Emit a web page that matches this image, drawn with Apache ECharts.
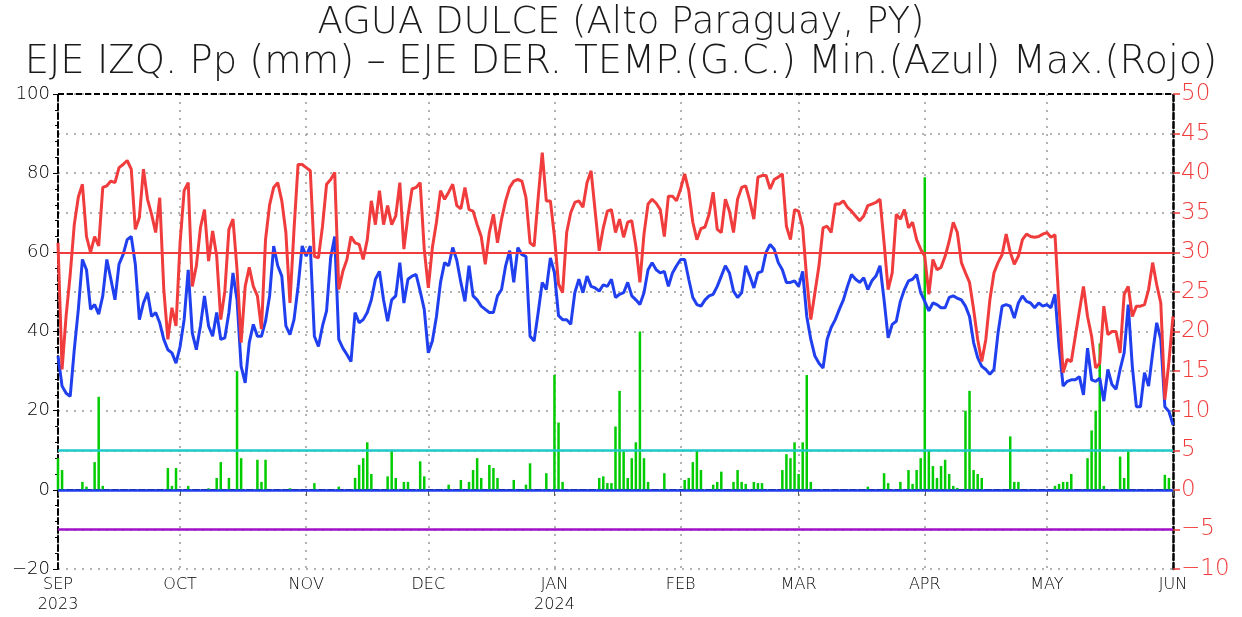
<!DOCTYPE html>
<html>
<head>
<meta charset="utf-8">
<title>AGUA DULCE (Alto Paraguay, PY)</title>
<script src="https://cdn.jsdelivr.net/npm/echarts@6/dist/echarts.min.js"></script>
<style>
  html, body { margin: 0; padding: 0; background: #fff; }
  #chart { width: 1242px; height: 617px; }
</style>
</head>
<body>
<div id="chart"></div>
<script>
// Daily series, 1 Sep 2023 .. 1 Jun 2024 (275 days)
const startDate = [2023, 8, 1];
const dayCount = 275;

const monthNames = ['JAN', 'FEB', 'MAR', 'APR', 'MAY', 'JUN', 'JUL', 'AUG', 'SEP', 'OCT', 'NOV', 'DEC'];

// Daily maximum temperature (°C)
const tempMax = [
  31.2, 15.2, 22, 27.2, 33.5, 37, 38.6, 32, 30, 32,
  30.8, 38.2, 38.4, 39, 38.8, 40.7, 41.1, 41.6, 40.5, 32.9,
  34.4, 40.5, 36.7, 34.8, 32.5, 36.9, 25.3, 19, 23, 20.7,
  31.2, 37.8, 38.8, 25.7, 28.3, 33.1, 35.4, 28.9, 32.7, 29.5,
  21.5, 25.1, 32.9, 34.2, 27.8, 18.6, 25.7, 28.1, 25.7, 24.5,
  20.3, 31.6, 36, 38.2, 38.8, 36.5, 32.5, 23.6, 32.9, 41.1,
  41.1, 40.7, 40.3, 29.5, 29.3, 33.3, 38.6, 39.2, 40.1, 25.3,
  27.6, 29.1, 32, 31.2, 31, 29.1, 31.6, 36.5, 33.5, 37.8,
  33.5, 35.9, 33.5, 34.6, 38.8, 30.4, 34.6, 38, 38.2, 38.8,
  30.4, 25.5, 30.6, 33.8, 37.8, 36.7, 37.6, 38.6, 35.9, 35.5,
  38.2, 35.4, 35.2, 33.5, 32, 28.5, 32.5, 34.8, 31.2, 34.2,
  36.5, 38.2, 39, 39.2, 39, 36.9, 31.2, 30.8, 36.9, 42.6,
  36.5, 36.5, 32, 26, 24.9, 32.5, 35, 36.3, 36.5, 35.7,
  38.8, 40.3, 35.2, 30.2, 33.1, 35.2, 35.4, 32.5, 34.2, 31.9,
  33.8, 34, 30.8, 26.2, 32.3, 36.1, 36.7, 36.2, 35.4, 32,
  37.1, 37.1, 36.5, 38, 39.9, 37.8, 33.8, 31.6, 33, 33.2,
  34.8, 37.6, 32.9, 32.5, 36.7, 35.2, 32.5, 36.7, 38.2, 38.4,
  36.5, 34.2, 39.5, 39.7, 39.7, 38, 39.2, 39.5, 39.9, 33.3,
  31.6, 35.4, 35.2, 33.1, 26.6, 21.5, 24.9, 28.3, 33.1, 33.3,
  32.5, 36.1, 36.1, 36.5, 35.7, 35.2, 34.6, 34, 34.6, 35.9,
  36.1, 36.3, 36.7, 31.2, 25.3, 27.4, 34.8, 34.2, 35.4, 33.1,
  33.8, 31.6, 30.4, 29.5, 24.7, 29.1, 27.8, 28.1, 29.5, 31.4,
  33.8, 32.5, 28.7, 27.4, 26.2, 22.8, 19, 16.2, 19, 24,
  27.4, 28.7, 29.7, 32.3, 30, 28.5, 29.5, 31.6, 32.3, 32,
  31.9, 32, 32.3, 32.5, 31.9, 32.2, 23.2, 14.8, 16.5, 16.2,
  19.4, 22.6, 25.7, 21.9, 19.4, 15.4, 16, 23.2, 19.6, 20,
  20, 17.3, 24.7, 25.7, 21.9, 23.2, 23.2, 23.4, 25.3, 28.7,
  25.9, 23.6, 11.4, 16.2, 21.9
];

// Daily minimum temperature (°C)
const tempMin = [
  16.9, 13.1, 12.2, 11.8, 17.7, 22.8, 29.1, 27.8, 22.8, 23.4,
  22.2, 24.5, 29.1, 26.6, 24, 28.5, 29.7, 31.6, 32, 28.5,
  21.5, 23.6, 24.9, 21.9, 22.4, 21.1, 19, 17.7, 17.3, 16,
  18.1, 21.5, 27.8, 19.8, 17.7, 20.7, 24.5, 20.7, 19.4, 22.4,
  19, 19.2, 22.4, 27.4, 24, 15.6, 13.5, 18.6, 20.9, 19.4,
  19.4, 21.3, 24.5, 30.8, 28.3, 27, 20.7, 19.6, 21.5, 25.7,
  30.8, 29.5, 30.8, 19.4, 18.1, 20.7, 22.6, 29.3, 32, 19,
  17.9, 17.1, 16.2, 22.4, 21.1, 21.5, 22.4, 24, 26.6, 27.6,
  24, 21.3, 24, 24.5, 28.7, 23.6, 26.6, 27, 27.2, 25.1,
  22.8, 17.3, 18.8, 21.9, 26.2, 28.7, 28.3, 30.6, 29, 26.2,
  23.8, 28.3, 24.5, 24, 23.2, 22.8, 22.4, 22.4, 24.5, 25.3,
  28.3, 30.2, 26.2, 30.6, 29.7, 29.5, 19.4, 18.8, 22.4, 26.2,
  25.3, 29.3, 27.4, 22, 21.5, 21.5, 20.9, 24.9, 26.6, 24.9,
  27, 25.7, 25.5, 25.1, 25.9, 25.7, 26.6, 24.3, 24.7, 24.9,
  26.2, 24.5, 24, 23.4, 24.9, 27.8, 28.7, 27.8, 27.4, 27.6,
  25.7, 27.4, 28.3, 29.1, 29.1, 26.6, 24.3, 23.4, 23.2, 24,
  24.5, 24.7, 25.7, 27, 28.3, 27.4, 25.1, 24.3, 24.9, 28.3,
  27, 25.5, 27.4, 27.6, 30, 31, 30.4, 28.7, 27.8, 26.2,
  26.2, 26.4, 25.7, 27.6, 21.9, 19, 16.9, 16, 15.4, 19,
  20.5, 21.5, 22.8, 24, 25.7, 27.2, 26.6, 26.2, 26.8, 25.3,
  26.4, 27, 28.3, 24, 19.2, 20.9, 21.3, 23.8, 25.3, 26.4,
  26.6, 27.2, 24.9, 23.8, 22.6, 23.6, 23.4, 23, 23, 24.3,
  24.5, 24.2, 24, 23.2, 21.9, 18.6, 16.7, 15.6, 15.2, 14.6,
  15.2, 19.8, 23.2, 23.4, 23.2, 21.7, 23.6, 24.5, 23.8, 23.6,
  23, 23.6, 23.2, 23.4, 23, 24.7, 18.1, 13.1, 13.7, 13.9,
  13.9, 14.3, 12, 17.9, 13.9, 13.7, 14.1, 11.2, 15.2, 13.3,
  12.7, 15.2, 17.3, 23.4, 15.6, 10.5, 10.5, 14.8, 13.1, 17.3,
  21.1, 19, 10.5, 9.9, 8.2
];

// Daily precipitation (mm)
const precip = [
  8, 5, 0, 0, 0, 0, 2, 0.8, 0, 7,
  23.5, 1, 0, 0, 0, 0, 0, 0, 0, 0,
  0, 0, 0, 0, 0, 0, 0, 5.5, 1, 5.5,
  0, 0, 1, 0, 0, 0, 0, 0.4, 0, 3,
  7, 0, 3, 0, 30, 8, 0, 0, 0, 7.6,
  2, 7.6, 0, 0, 0, 0, 0, 0.4, 0, 0,
  0, 0, 0, 1.7, 0, 0, 0, 0, 0, 0.8,
  0, 0, 0, 3, 6.3, 8, 12, 4, 0, 0,
  0, 3.4, 10, 3, 0, 2, 2, 0, 0, 7.2,
  3.4, 0, 0, 0, 0, 0, 1.3, 0, 0, 2.5,
  0, 2, 5, 8, 3, 0, 6.3, 5.5, 3, 0,
  0, 0, 2.5, 0, 0, 1.3, 6.7, 0, 0, 0,
  4.2, 0, 29, 17, 2, 0, 0, 0, 0, 0,
  0, 0, 0, 3, 3.4, 1.7, 1.7, 16, 25, 10,
  3, 8, 12, 40, 8, 2, 0, 0, 0, 4.2,
  0, 0, 0, 0, 2.5, 3, 7, 10, 5, 0,
  0, 1.3, 2, 4.6, 0, 0, 2, 5, 2, 1.5,
  0, 2, 1.7, 1.7, 0, 0, 0, 0, 5, 9,
  8, 12, 4, 12, 29, 2, 0, 0, 0, 0,
  0, 0, 0, 0, 0, 0, 0, 0, 0, 0.8,
  0, 0, 0, 4.2, 1.7, 0, 0, 2, 0, 5,
  1.5, 5, 8, 79, 10, 6, 3, 6, 7.6, 4,
  1, 0.5, 0, 20, 25, 5, 4, 3, 0, 0,
  0, 0, 0, 0, 13.5, 2, 2, 0, 0, 0,
  0, 0, 0, 0, 0, 1, 1.5, 2, 2, 4,
  0, 0, 0, 8, 15, 20, 37, 1, 0, 0,
  0, 8.4, 3, 9.7, 0, 0, 0, 0, 0, 0,
  0, 0, 3.8, 3, 0
];

// Reference levels on the precipitation axis (mm)
const refLevels = [
  { value: 100, color: '#000000', type: [6, 3], width: 2 },
  { value: 60, color: '#f03c3c', type: 'solid', width: 2 },
  { value: 10, color: '#1ec8c8', type: 'solid', width: 2.5 },
  { value: 0, color: '#2040f0', type: 'solid', width: 2.5 },
  { value: -10, color: '#a010c8', type: 'solid', width: 2.5 }
];

const days = [];
for (let i = 0; i < dayCount; i++) {
  const d = new Date(Date.UTC(startDate[0], startDate[1], startDate[2] + i));
  days.push(d.toISOString().slice(0, 10));
}

const isMonthStart = (idx) => days[idx] && days[idx].slice(8) === '01';
const minus = (v) => String(v).replace('-', '\u2212');

const chart = echarts.init(document.getElementById('chart'), null, { renderer: 'canvas' });

const font = 'DejaVu Sans';

chart.setOption({
  animation: false,
  backgroundColor: '#ffffff',
  title: [
    {
      text: 'AGUA DULCE (Alto Paraguay, PY)',
      left: 'center', top: 0,
      textStyle: { fontFamily: font, fontSize: 37, fontWeight: 200, color: '#1a1a1a' }
    },
    {
      text: 'EJE IZQ. Pp (mm) \u2013 EJE DER. TEMP.(G.C.) Min.(Azul) Max.(Rojo)',
      left: 'center', top: 38,
      textStyle: { fontFamily: font, fontSize: 38.5, fontWeight: 200, color: '#1a1a1a' }
    }
  ],
  grid: { left: 58, right: 69, top: 94, bottom: 48, containLabel: false },
  xAxis: {
    type: 'category',
    data: days,
    boundaryGap: false,
    axisLine: { show: true, lineStyle: { color: '#000', width: 2, type: [6, 3] } },
    axisTick: {
      show: true, length: 6,
      interval: (idx) => isMonthStart(idx),
      lineStyle: { color: '#555', width: 1 }
    },
    axisLabel: {
      interval: (idx) => isMonthStart(idx),
      fontFamily: font, fontSize: 16, fontWeight: 200, color: '#000',
      margin: 6, lineHeight: 20,
      formatter: (value, idx) => {
        const y = +value.slice(0, 4);
        const m = +value.slice(5, 7) - 1;
        const name = monthNames[m];
        return (idx === 0 || m === 0) ? name + '\n' + y : name;
      }
    },
    splitLine: {
      show: true,
      interval: (idx) => isMonthStart(idx),
      lineStyle: { color: '#999', width: 1.5, type: [2, 6] }
    }
  },
  yAxis: [
    {
      type: 'value', min: -20, max: 100, interval: 20,
      position: 'left',
      axisLine: { show: true, lineStyle: { color: '#000', width: 2, type: [6, 3] } },
      axisTick: { show: true, length: 5, lineStyle: { color: '#000' } },
      minorTick: { show: true, splitNumber: 5, length: 3, lineStyle: { color: '#000' } },
      axisLabel: {
        fontFamily: font, fontSize: 18, fontWeight: 200, color: '#000', margin: 8,
        formatter: minus
      },
      splitLine: { show: false }
    },
    {
      type: 'value', min: -10, max: 50, interval: 5,
      position: 'right',
      axisLine: { show: true, lineStyle: { color: '#000', width: 2.5, type: [6, 3] } },
      axisTick: { show: true, length: 7, lineStyle: { color: '#f03c3c', width: 1.5 } },
      axisLabel: {
        fontFamily: font, fontSize: 23, fontWeight: 200, color: '#f03c3c', margin: 8,
        formatter: minus
      },
      splitLine: { show: true, lineStyle: { color: '#9a9a9a', width: 1.5, type: [2, 6] } }
    }
  ],
  series: [
    {
      name: 'Pp',
      type: 'bar',
      yAxisIndex: 0,
      data: precip,
      barWidth: 2.5,
      itemStyle: { color: '#00cc00' },
      z: 2,
      markLine: {
        silent: true,
        symbol: 'none',
        label: { show: false },
        animation: false,
        data: refLevels.map(r => ({
          yAxis: r.value,
          lineStyle: { color: r.color, type: r.type, width: r.width }
        }))
      }
    },
    {
      name: 'Min',
      type: 'line',
      yAxisIndex: 1,
      data: tempMin,
      showSymbol: false,
      lineStyle: { color: '#2040f0', width: 3 },
      itemStyle: { color: '#2040f0' },
      z: 3
    },
    {
      name: 'Max',
      type: 'line',
      yAxisIndex: 1,
      data: tempMax,
      showSymbol: false,
      lineStyle: { color: '#f03c3c', width: 3 },
      itemStyle: { color: '#f03c3c' },
      z: 4
    }
  ]
});
</script>
</body>
</html>
